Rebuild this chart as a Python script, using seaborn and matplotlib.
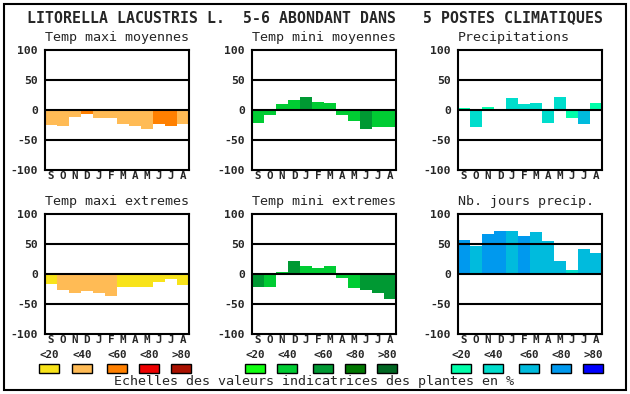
import pandas as pd
import seaborn as sns
import matplotlib.pyplot as plt
from matplotlib.patches import Rectangle

# Mois (septembre -> aout)
mois = ["S", "O", "N", "D", "J", "F", "M", "A", "M", "J", "J", "A"]

tmax_moy = [-25, -27, -11, -7, -13, -13, -23, -27, -31, -23, -27, -23]
tmax_moy_cls = [1, 1, 1, 2, 1, 1, 1, 1, 1, 2, 2, 1]
tmin_moy = [-21, -8, 10, 17, 22, 13, 11, -8, -18, -31, -28, -28]
tmin_moy_cls = [1, 1, 1, 1, 2, 1, 1, 1, 1, 2, 1, 1]
precip = [3, -28, 5, 2, 20, 10, 12, -21, 22, -14, -24, 12]
precip_cls = [0, 1, 0, 1, 1, 1, 1, 1, 1, 0, 2, 0]
tmax_ext = [-16, -26, -32, -28, -31, -36, -22, -21, -21, -13, -8, -18]
tmax_ext_cls = [0, 1, 1, 1, 1, 1, 0, 0, 0, 0, 0, 0]
tmin_ext = [-21, -21, 3, 22, 13, 10, 13, -6, -24, -26, -31, -42]
tmin_ext_cls = [2, 1, 1, 2, 1, 1, 1, 1, 1, 2, 2, 2]
jours_precip = [57, 47, 67, 72, 72, 63, 70, 55, 22, 7, 42, 35]
jours_precip_cls = [3, 2, 3, 3, 2, 3, 2, 2, 2, 1, 2, 2]

classes = ["<20", "<40", "<60", "<80", ">80"]
oranges = ["#F8E31A", "#FFBB55", "#FF8000", "#EE0000", "#AA1100"]
verts = ["#11FF11", "#00CC33", "#009933", "#007700", "#006622"]
bleus = ["#00FFAA", "#00DDCC", "#00BBDD", "#0099EE", "#0000FF"]

sns.set_style("white")
plt.rcParams["font.family"] = ["DejaVu Sans Mono"]

W, H = 630, 394
fig = plt.figure(figsize=(W / 100, H / 100), dpi=100)


def fx(x):
    return x / W


def fy(y):
    return 1 - y / H


# cadre general
fig.add_artist(Rectangle((fx(4), fy(390)), fx(622), 386 / H, transform=fig.transFigure,
                         fill=False, edgecolor="black", linewidth=1.5))

fig.text(fx(315), fy(18), "LITORELLA LACUSTRIS L.  5-6 ABONDANT DANS   5 POSTES CLIMATIQUES",
         ha="center", va="center", fontsize=10.7, fontweight="bold")

panneaux = [
    ("Temp maxi moyennes", tmax_moy, tmax_moy_cls, oranges, 45, 50),
    ("Temp mini moyennes", tmin_moy, tmin_moy_cls, verts, 252, 50),
    ("Precipitations", precip, precip_cls, bleus, 458, 50),
    ("Temp maxi extremes", tmax_ext, tmax_ext_cls, oranges, 45, 214),
    ("Temp mini extremes", tmin_ext, tmin_ext_cls, verts, 252, 214),
    ("Nb. jours precip.", jours_precip, jours_precip_cls, bleus, 458, 214),
]

for titre, vals, cls, pal, x0, y0 in panneaux:
    ax = fig.add_axes([fx(x0), fy(y0 + 120), 144 / W, 120 / H])
    df = pd.DataFrame({"pos": range(12), "val": vals, "cls": cls})
    sns.barplot(data=df, x="pos", y="val", hue="cls", palette={i: c for i, c in enumerate(pal)},
                dodge=False, width=1, legend=False, linewidth=0, saturation=1, ax=ax)
    for yv in (50, 0, -50):
        ax.axhline(yv, color="black", linewidth=1.5, zorder=5)
    ax.set_ylim(-100, 100)
    ax.set_xlim(-0.5, 11.5)
    ax.set_yticks([100, 50, 0, -50, -100])
    ax.set_yticklabels(["100", "50", "0", "-50", "-100"], fontweight="bold", fontsize=8.2)
    ax.set_xticks(range(12))
    ax.set_xticklabels(mois, fontweight="bold", fontsize=7.8)
    ax.tick_params(axis="y", length=0, pad=5)
    ax.tick_params(axis="x", length=0, pad=0.5)
    ax.set_xlabel("")
    ax.set_ylabel("")
    for s in ax.spines.values():
        s.set_visible(True)
        s.set_color("black")
        s.set_linewidth(1.5)
    fig.text(fx(x0), fy(y0 - 12), titre, ha="left", va="center", fontsize=9.6)

# echelles de couleurs
groupes = [(oranges, [39, 72, 107, 139, 171]),
           (verts, [245, 277, 313, 345, 377]),
           (bleus, [451, 483, 519, 551, 583])]
for pal, xs in groupes:
    for lab, c, xl in zip(classes, pal, xs):
        fig.add_artist(Rectangle((fx(xl), fy(373)), 20 / W, 9 / H, transform=fig.transFigure,
                                 facecolor=c, edgecolor="black", linewidth=1))
        fig.text(fx(xl + 10), fy(355.5), lab, ha="center", va="center",
                 fontsize=7.8, fontweight="bold")

fig.text(fx(314), fy(382), "Echelles des valeurs indicatrices des plantes en %",
         ha="center", va="center", fontsize=9.6)

fig.savefig("out.png", dpi=100)
